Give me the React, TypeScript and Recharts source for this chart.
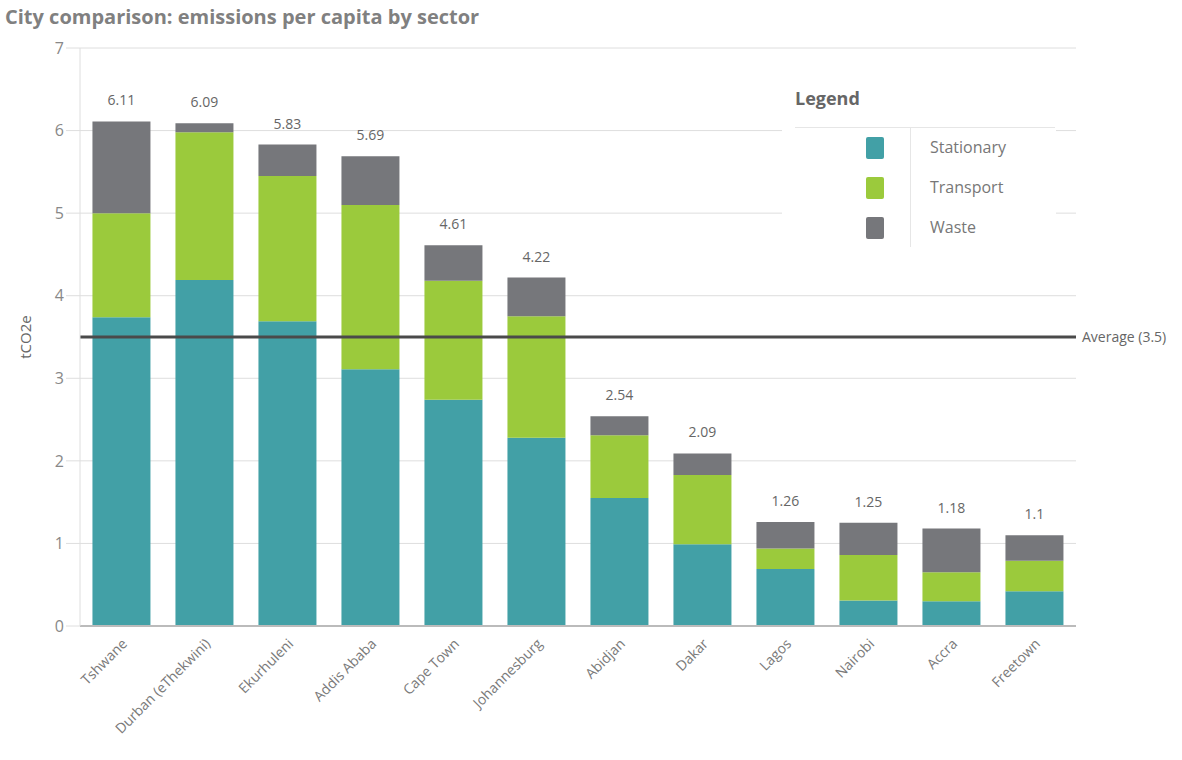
import React from 'react';
import { BarChart, Bar, XAxis, YAxis, CartesianGrid, ReferenceLine, LabelList } from 'recharts';

const cities = ['Tshwane', 'Durban (eThekwini)', 'Ekurhuleni', 'Addis Ababa', 'Cape Town', 'Johannesburg', 'Abidjan', 'Dakar', 'Lagos', 'Nairobi', 'Accra', 'Freetown'];
const stationary = [3.74, 4.19, 3.69, 3.11, 2.74, 2.28, 1.55, 0.99, 0.69, 0.31, 0.30, 0.42];
const transport = [1.26, 1.79, 1.76, 1.99, 1.44, 1.47, 0.76, 0.84, 0.25, 0.55, 0.35, 0.37];
const waste = [1.11, 0.11, 0.38, 0.59, 0.43, 0.47, 0.23, 0.26, 0.32, 0.39, 0.53, 0.31];
const totalLabels = ['6.11', '6.09', '5.83', '5.69', '4.61', '4.22', '2.54', '2.09', '1.26', '1.25', '1.18', '1.1'];
const yTicks = [0, 1, 2, 3, 4, 5, 6, 7];
const average = 3.5;

const seriesNames = ['Stationary', 'Transport', 'Waste'];
const seriesColors = ['#42A0A6', '#9BCA3C', '#76777B'];

const data = cities.map((c, i) => ({
  city: c,
  stationary: stationary[i],
  transport: transport[i],
  waste: waste[i],
  total: totalLabels[i],
}));

const FONT = '"Open Sans", Lato, sans-serif';

const XTick = (props: any) => {
  const { x, y, payload } = props;
  return (
    <text x={x + 4} y={y + 8} textAnchor="end" transform={`rotate(-45 ${x + 4} ${y + 8})`} fill="#7a7a7a" fontSize={14} fontFamily={FONT} dominantBaseline="middle">
      {payload.value}
    </text>
  );
};

const TotalLabel = (props: any) => {
  const { x, y, width, index } = props;
  return (
    <text x={x + width / 2} y={y - 16} textAnchor="middle" fill="#666" fontSize={14} fontFamily={FONT}>
      {totalLabels[index]}
    </text>
  );
};

const LegendBox = () => (
  <div style={{ position: 'absolute', left: 782, top: 72, width: 274, height: 178, background: '#fff', fontFamily: FONT }}>
    <div style={{ position: 'absolute', left: 13, top: 14, fontSize: 18, fontWeight: 'bold', color: '#666' }}>Legend</div>
    <div style={{ position: 'absolute', left: 13, top: 55, width: 260, height: 1, background: '#e6e6e6' }} />
    <div style={{ position: 'absolute', left: 128, top: 55, width: 1, height: 120, background: '#e6e6e6' }} />
    {seriesNames.map((n, i) => (
      <React.Fragment key={n}>
        <div style={{ position: 'absolute', left: 84, top: 65 + i * 40, width: 18, height: 22, background: seriesColors[i], borderRadius: 2 }} />
        <div style={{ position: 'absolute', left: 148, top: 63 + i * 40, fontSize: 16, color: '#777', lineHeight: '24px' }}>{n}</div>
      </React.Fragment>
    ))}
  </div>
);

export default function App() {
  return (
    <div style={{ position: 'absolute', left: 0, top: 0, width: 1182, height: 760, background: '#fff' }}>
      <div style={{ position: 'absolute', left: 0, top: 0 }}>
        <BarChart width={1182} height={760} data={data} margin={{ top: 48, right: 106, left: 0, bottom: 0 }} barCategoryGap="15%">
          <CartesianGrid horizontal vertical={false} stroke="#dedede" />
          <XAxis dataKey="city" height={134} interval={0} tick={<XTick />} tickLine={false} axisLine={{ stroke: '#bbb', strokeWidth: 2 }} />
          <YAxis width={80} domain={[0, 7]} ticks={yTicks} tickSize={14} tickLine={{ stroke: '#dedede' }} axisLine={{ stroke: '#dedede' }}
            tick={{ fill: '#888', fontSize: 16, fontFamily: FONT }}
            label={{ value: 'tCO2e', angle: -90, position: 'insideLeft', offset: 26, style: { fill: '#666', fontSize: 15, fontFamily: FONT, textAnchor: 'middle' } }} />
          <Bar dataKey="stationary" name={seriesNames[0]} stackId="a" fill={seriesColors[0]} isAnimationActive={false} />
          <Bar dataKey="transport" name={seriesNames[1]} stackId="a" fill={seriesColors[1]} isAnimationActive={false} />
          <Bar dataKey="waste" name={seriesNames[2]} stackId="a" fill={seriesColors[2]} isAnimationActive={false}>
            <LabelList dataKey="total" content={<TotalLabel />} />
          </Bar>
          <ReferenceLine y={average} stroke="#4a4a4a" strokeWidth={3}
            label={{ value: `Average (${average})`, position: 'right', offset: 6, fill: '#666', fontSize: 14, fontFamily: FONT }} />
        </BarChart>
      </div>
      <LegendBox />
      <div style={{ position: 'absolute', left: 5, top: 3, fontSize: 20, fontWeight: 'bold', color: '#808080', fontFamily: FONT }}>
        City comparison: emissions per capita by sector
      </div>
    </div>
  );
}
